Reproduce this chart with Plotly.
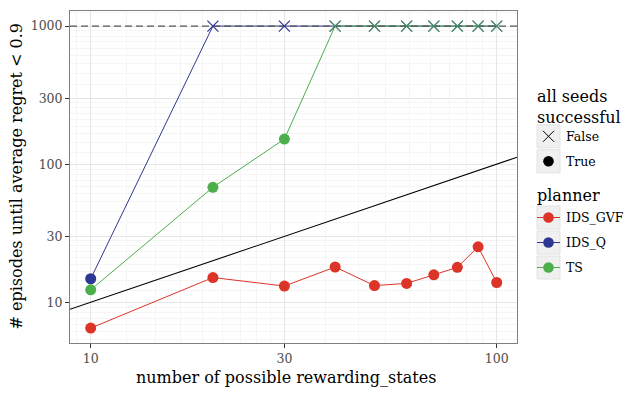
import numpy as np
import plotly.graph_objects as go

# data
rewarding_states = [10, 20, 30, 40, 50, 60, 70, 80, 90, 100]
ids_gvf = [6.5, 15.1, 13.1, 18.0, 13.2, 13.7, 15.8, 17.9, 25.2, 13.9]
ids_q = [14.8, 1000, 1000, 1000, 1000, 1000, 1000, 1000, 1000, 1000]
ts = [12.3, 68, 152, 1000, 1000, 1000, 1000, 1000, 1000, 1000]
ids_gvf_ok = [True] * 10
ids_q_ok = [True] + [False] * 9
ts_ok = [True, True, True] + [False] * 7
episode_cap = 1000

x_ticks = [10, 30, 100]
y_ticks = [10, 30, 100, 300, 1000]

planners = ["IDS_GVF", "IDS_Q", "TS"]
colors = {"IDS_GVF": "#dc3428", "IDS_Q": "#2f3794", "TS": "#4caf4c"}
series = {"IDS_GVF": (ids_gvf, ids_gvf_ok), "IDS_Q": (ids_q, ids_q_ok), "TS": (ts, ts_ok)}

FONT = "DejaVu Serif, Liberation Serif, serif"
OFF = 8  # page body margin
W, H = 642 - OFF, 394 - OFF
L, R, T, B = 70 - OFF, 125, 11 - OFF, 51
x_range = [0.949, 2.050]
y_range = [0.705, 3.109]


def minor_vals(majors):
    # 8 evenly spaced minor lines between consecutive 1-3-10 breaks
    full = [majors[0] / (10 / 3)] + majors + [majors[-1] * (10 / 3)]
    out = []
    for a, b in zip(full[:-1], full[1:]):
        out += list(np.linspace(a, b, 10)[1:-1])
    return out


fig = go.Figure()

# lines per planner
for p in planners:
    ys, ok = series[p]
    fig.add_trace(go.Scatter(x=rewarding_states, y=ys, mode="lines",
                             line=dict(color=colors[p], width=1), showlegend=False))

# reference line y = x over the full x range
x_edges = [10 ** x_range[0], 10 ** x_range[1]]
fig.add_trace(go.Scatter(x=x_edges, y=x_edges, mode="lines",
                         line=dict(color="black", width=1.1), showlegend=False))

# cap line
fig.add_trace(go.Scatter(x=x_edges, y=[episode_cap, episode_cap], mode="lines",
                         line=dict(color="#555555", width=1.3, dash="7px,4px"),
                         showlegend=False))

# points: circles for successful, crosses otherwise
for p in planners:
    ys, ok = series[p]
    xs_t = [x for x, o in zip(rewarding_states, ok) if o]
    ys_t = [y for y, o in zip(ys, ok) if o]
    xs_f = [x for x, o in zip(rewarding_states, ok) if not o]
    ys_f = [y for y, o in zip(ys, ok) if not o]
    fig.add_trace(go.Scatter(x=xs_t, y=ys_t, mode="markers",
                             marker=dict(color=colors[p], size=11, symbol="circle", line=dict(width=0)),
                             showlegend=False))
    fig.add_trace(go.Scatter(x=xs_f, y=ys_f, mode="markers",
                             marker=dict(color=colors[p], size=11, symbol="x-thin",
                                         line=dict(color=colors[p], width=1.2)),
                             opacity=0.75 if p == "TS" else 1, showlegend=False))

axis_common = dict(
    type="log", showline=True, mirror=True, linecolor="#7f7f7f", linewidth=1,
    ticks="outside", ticklen=4, tickcolor="#333333", tickwidth=1,
    tickfont=dict(family=FONT, size=12.5, color="#4d4d4d"),
    showgrid=True, gridcolor="#e6e6e6", gridwidth=1, zeroline=False,
)
fig.update_xaxes(range=x_range, tickvals=x_ticks, ticktext=[str(v) for v in x_ticks],
                 minor=dict(tickvals=minor_vals(x_ticks), showgrid=True, gridcolor="#f5f5f5", ticks=""),
                 **axis_common)
fig.update_yaxes(range=y_range, tickvals=y_ticks, ticktext=[str(v) for v in y_ticks],
                 minor=dict(tickvals=minor_vals(y_ticks), showgrid=True, gridcolor="#f5f5f5", ticks=""),
                 **axis_common)


# page pixel -> paper coordinates
def px_x(px):
    return (px - OFF - L) / (W - L - R)


def px_y(py):
    return (H - B - (py - OFF)) / (H - T - B)


annotations = [
    dict(text="number of possible rewarding_states", x=px_x(286), y=px_y(377),
         xref="paper", yref="paper", showarrow=False, font=dict(family=FONT, size=16, color="black"),
         xanchor="center", yanchor="middle"),
    dict(text="# episodes until average regret < 0.9", x=px_x(16), y=px_y(176.5),
         xref="paper", yref="paper", showarrow=False, textangle=-90,
         font=dict(family=FONT, size=16, color="black"), xanchor="center", yanchor="middle"),
]
shapes = []

# manual legend (grey key boxes like ggplot)
key_x = 548.5
text_x = 564
legend_title_font = dict(family=FONT, size=16, color="black")
legend_font = dict(family=FONT, size=12.5, color="black")


def key_box(cy):
    shapes.append(dict(type="rect", xref="paper", yref="paper", xsizemode="pixel", ysizemode="pixel",
                       xanchor=px_x(key_x), yanchor=px_y(cy), x0=-11.5, x1=11.5, y0=-11.5, y1=11.5,
                       fillcolor="#f0f0f0", line=dict(color="#e2e2e2", width=1), layer="above"))


def key_circle(cy, color):
    shapes.append(dict(type="circle", xref="paper", yref="paper", xsizemode="pixel", ysizemode="pixel",
                       xanchor=px_x(key_x), yanchor=px_y(cy), x0=-5.3, x1=5.3, y0=-5.3, y1=5.3,
                       fillcolor=color, line=dict(width=0), layer="above"))


def key_label(cy, text):
    annotations.append(dict(text=text, x=px_x(text_x), y=px_y(cy), xref="paper", yref="paper",
                            showarrow=False, font=legend_font, xanchor="left", yanchor="middle"))


def legend_title(cy, text):
    annotations.append(dict(text=text, x=px_x(535), y=px_y(cy), xref="paper", yref="paper",
                            showarrow=False, font=legend_title_font, xanchor="left",
                            yanchor="middle", align="left"))


legend_title(107, "all seeds<br>successful")
# False (cross)
cy = 136.3
key_box(cy)
for s in (1, -1):
    shapes.append(dict(type="line", xref="paper", yref="paper", xsizemode="pixel", ysizemode="pixel",
                       xanchor=px_x(key_x), yanchor=px_y(cy), x0=-5.5, x1=5.5, y0=-5.5 * s, y1=5.5 * s,
                       line=dict(color="black", width=1), layer="above"))
key_label(cy, "False")
# True (circle)
cy = 161.3
key_box(cy)
key_circle(cy, "black")
key_label(cy, "True")

legend_title(195.5, "planner")
for i, p in enumerate(planners):
    cy = 217.5 + 25 * i
    key_box(cy)
    shapes.append(dict(type="line", xref="paper", yref="paper", xsizemode="pixel", ysizemode="pixel",
                       xanchor=px_x(key_x), yanchor=px_y(cy), x0=-11.5, x1=11.5, y0=0, y1=0,
                       line=dict(color=colors[p], width=1), layer="above"))
    key_circle(cy, colors[p])
    key_label(cy, p)

fig.update_layout(
    width=W, height=H, margin=dict(l=L, r=R, t=T, b=B),
    paper_bgcolor="white", plot_bgcolor="white",
    font=dict(family=FONT, color="black"),
    showlegend=False, annotations=annotations, shapes=shapes,
)

fig.write_html("out.html")
